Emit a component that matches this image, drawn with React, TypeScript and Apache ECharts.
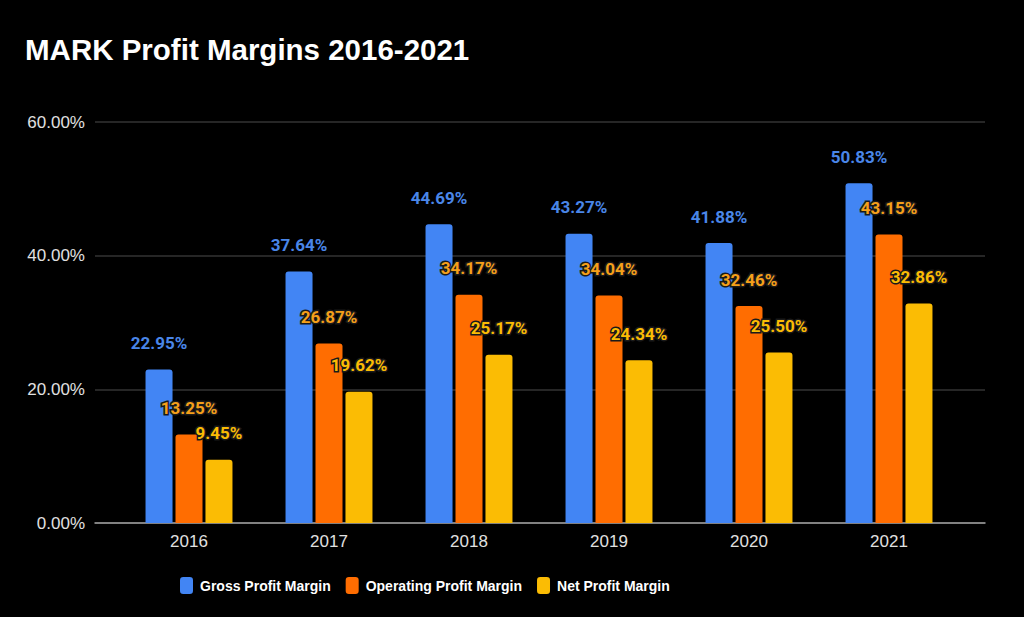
import React, { useEffect, useRef } from "react";
import * as echarts from "echarts";

const years = ["2016", "2017", "2018", "2019", "2020", "2021"];
const grossMargin = [22.95, 37.64, 44.69, 43.27, 41.88, 50.83];
const operatingMargin = [13.25, 26.87, 34.17, 34.04, 32.46, 43.15];
const netMargin = [9.45, 19.62, 25.17, 24.34, 25.5, 32.86];
const seriesNames = ["Gross Profit Margin", "Operating Profit Margin", "Net Profit Margin"];
const yTicks = { min: 0, max: 60, interval: 20 };

const barColors = ["#4285F4", "#FF6D01", "#FBBC04"];
const labelColors = ["#4A86E8", "#F5A01A", "#FBBC04"];

export default function App() {
  const ref = useRef<HTMLDivElement>(null);
  useEffect(() => {
    if (!ref.current) return;
    const chart = echarts.init(ref.current, null, { renderer: "svg" });
    const values = [grossMargin, operatingMargin, netMargin];
    const mkSeries = (i: number) => ({
      name: seriesNames[i],
      type: "bar",
      xAxisIndex: 0,
      yAxisIndex: 0,
      data: values[i],
      barWidth: 27,
      barGap: "11%",
      itemStyle: { color: barColors[i], borderRadius: [3, 3, 0, 0] },
      label: {
        show: true,
        position: "top",
        distance: 18,
        formatter: (p: any) => `${p.value.toFixed(2)}%`,
        fontFamily: "Roboto",
        fontWeight: "bold",
        fontSize: 17,
        color: labelColors[i],
        textBorderColor: i === 0 ? "transparent" : "#1a1a1a",
        textBorderWidth: i === 0 ? 0 : 3,
      },
    });
    chart.setOption({
      animation: false,
      backgroundColor: "#000000",
      title: {
        text: "MARK Profit Margins 2016-2021",
        left: 20,
        top: 29,
        textStyle: {
          color: "#ffffff",
          fontFamily: "Liberation Sans, Arial",
          fontWeight: "bold",
          fontSize: 29.5,
        },
      },
      legend: {
        left: 175,
        top: 572,
        itemWidth: 13,
        itemHeight: 17,
        itemGap: 15,
        icon: "roundRect",
        data: seriesNames,
        textStyle: {
          color: "#ffffff",
          fontFamily: "Liberation Sans, Arial",
          fontWeight: "bold",
          fontSize: 14,
          padding: [0, 0, 0, 2],
        },
      },
      grid: [
        { left: 119, right: 65, top: 122, bottom: 94 },
        { left: 95, right: 39, top: 122, bottom: 94 },
      ],
      xAxis: [
        {
          type: "category",
          gridIndex: 0,
          data: years,
          axisLine: { show: false },
          axisTick: { show: false },
          axisLabel: {
            color: "#e0e0e0",
            fontFamily: "Liberation Sans, Arial",
            fontSize: 17,
            margin: 10,
          },
        },
        {
          type: "value",
          gridIndex: 1,
          min: 0,
          max: 1,
          axisLine: { show: true, onZero: false, lineStyle: { color: "#a0a0a0", width: 1.5 } },
          axisTick: { show: false },
          axisLabel: { show: false },
          splitLine: { show: false },
        },
      ],
      yAxis: [
        {
          type: "value",
          gridIndex: 0,
          min: yTicks.min,
          max: yTicks.max,
          interval: yTicks.interval,
          show: false,
          splitLine: { show: false },
        },
        {
          type: "value",
          gridIndex: 1,
          min: yTicks.min,
          max: yTicks.max,
          interval: yTicks.interval,
          axisLine: { show: false },
          axisTick: { show: false },
          axisLabel: {
            color: "#e0e0e0",
            fontFamily: "Liberation Sans, Arial",
            fontSize: 17,
            margin: 10,
            formatter: (v: number) => `${v.toFixed(2)}%`,
          },
          splitLine: { show: true, lineStyle: { color: "#333333", width: 1.5 } },
        },
      ],
      series: [mkSeries(0), mkSeries(1), mkSeries(2)],
    });
    return () => chart.dispose();
  }, []);
  return (
    <div
      ref={ref}
      style={{ position: "fixed", left: 0, top: 0, width: 1024, height: 617 }}
    />
  );
}
